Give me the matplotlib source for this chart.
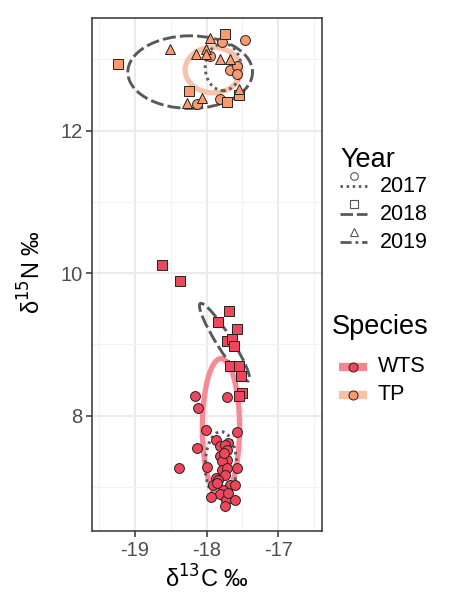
import matplotlib
matplotlib.use("Agg")
import matplotlib.pyplot as plt
from matplotlib.patches import Ellipse
import numpy as np

plt.rcParams['font.family'] = ['Liberation Sans', 'DejaVu Sans']
plt.rcParams['axes.unicode_minus'] = False

# ---------------- data ----------------
species = ["WTS", "TP"]
years = ["2017", "2018", "2019"]

# TP (salmon) points
tp_2017_x = [-17.78, -17.47, -17.95, -17.68, -17.57, -17.57, -18.14, -17.81]
tp_2017_y = [13.24, 13.27, 13.04, 12.85, 12.90, 12.79, 12.37, 12.44]
tp_2018_x = [-17.75, -19.24, -18.24, -17.71, -17.55]
tp_2018_y = [13.36, 12.93, 12.55, 12.40, 12.50]
tp_2019_x = [-17.95, -18.51, -18.15, -18.01, -18.01, -17.82, -17.68, -18.28, -18.07, -17.55]
tp_2019_y = [13.30, 13.15, 13.08, 13.14, 13.07, 13.00, 13.01, 12.39, 12.46, 12.58]

# WTS (red) points
wts_2017_x = [-18.16, -18.12, -17.71, -18.01, -17.57, -18.14, -18.38, -18.00, -17.57,
              -17.87, -17.82, -17.70, -17.74, -17.71, -17.81, -17.72, -17.79, -17.79,
              -17.72, -17.74, -17.87, -17.91, -17.68, -17.61, -17.77, -17.82, -17.94,
              -17.73, -17.60, -17.74, -17.76, -17.84, -17.70, -17.85]
wts_2017_y = [8.28, 8.11, 8.26, 7.80, 7.77, 7.54, 7.26, 7.28, 7.26,
              7.66, 7.58, 7.61, 7.59, 7.51, 7.43, 7.38, 7.36, 7.24,
              7.26, 7.16, 7.12, 7.03, 7.03, 7.03, 6.96, 6.90, 6.86,
              6.82, 6.81, 6.73, 7.48, 7.10, 6.92, 7.05]
wts_2018_x = [-18.63, -18.37, -17.69, -17.84, -17.57, -17.71, -17.64, -17.62,
              -17.67, -17.55, -17.52, -17.50, -17.55]
wts_2018_y = [10.11, 9.89, 9.47, 9.31, 9.22, 9.05, 9.07, 8.98,
              8.69, 8.69, 8.55, 8.32, 8.27]

# Ellipses: centre x, centre y, width, height, angle
sp_ell_species = ["WTS", "TP"]
sp_ell_cx = [-17.80, -17.91]
sp_ell_cy = [7.83, 12.85]
sp_ell_w = [0.52, 0.78]
sp_ell_h = [1.94, 0.64]
sp_ell_ang = [0.0, 0.0]

yr_ell_year = ["2017", "2018", "2017", "2018"]
yr_ell_cx = [-17.77, -18.23, -17.80, -17.75]
yr_ell_cy = [12.89, 12.82, 7.30, 9.03]
yr_ell_w = [0.50, 1.74, 0.44, 1.28]
yr_ell_h = [0.66, 1.02, 0.95, 0.21]
yr_ell_ang = [0.0, 0.0, 0.0, -58.0]

# ---------------- styles ----------------
fill_col = {"WTS": "#F0455B", "TP": "#F99B6E"}
ell_col = {"WTS": "#F7848F", "TP": "#F8C0A6"}
marker_of = {"2017": "o", "2018": "s", "2019": "^"}
msize = {"2017": 7.1, "2018": 6.5, "2019": 7.9}
ls_of = {"2017": (0, (0.9, 1.3)), "2018": (0, (4.5, 1.4)), "2019": (0, (4, 1.4, 1, 1.4))}
gray = "#595959"

W, H = 464, 604
fig = plt.figure(figsize=(W / 100, H / 100), dpi=100)
L, R, T, B = 92, 322, 18, 531
ax = fig.add_axes([L / W, 1 - B / H, (R - L) / W, (B - T) / H])
ax.set_xlim(-19.60, -16.39)
ax.set_ylim(6.38, 13.58)

# grid
ax.set_xticks([-19, -18, -17])
ax.set_yticks([8, 10, 12])
ax.set_xticks([-19.5, -18.5, -17.5, -16.5], minor=True)
ax.set_yticks([7, 9, 11, 13], minor=True)
ax.grid(True, which="major", color="#EBEBEB", lw=1.5, zorder=0)
ax.grid(True, which="minor", color="#F3F3F3", lw=0.8, zorder=0)
ax.set_axisbelow(True)
for s in ax.spines.values():
    s.set_color("#333333")
    s.set_linewidth(1.1)
ax.tick_params(which="major", length=4, width=1.1, color="#333333",
               labelsize=14.5, labelcolor="#4D4D4D", pad=3)
ax.tick_params(which="minor", length=0)
ax.set_xticklabels(["-19", "-18", "-17"])

# species ellipses
for sp, cx, cy, w, h, a in zip(sp_ell_species, sp_ell_cx, sp_ell_cy, sp_ell_w, sp_ell_h, sp_ell_ang):
    ax.add_patch(Ellipse((cx, cy), w, h, angle=a, fill=False, ec=ell_col[sp],
                         lw=3.8, alpha=0.95, zorder=2))

# year ellipses
for yr, cx, cy, w, h, a in zip(yr_ell_year, yr_ell_cx, yr_ell_cy, yr_ell_w, yr_ell_h, yr_ell_ang):
    ax.add_patch(Ellipse((cx, cy), w, h, angle=a, fill=False, ec=gray,
                         lw=2.1, ls=ls_of[yr], zorder=3))

# points
def pts(xs, ys, sp, yr):
    ax.plot(xs, ys, ls="none", marker=marker_of[yr], ms=msize[yr],
            mfc=fill_col[sp], mec="#222222", mew=0.7, zorder=4)

pts(wts_2017_x, wts_2017_y, "WTS", "2017")
pts(wts_2018_x, wts_2018_y, "WTS", "2018")
pts(tp_2017_x, tp_2017_y, "TP", "2017")
pts(tp_2018_x, tp_2018_y, "TP", "2018")
pts(tp_2019_x, tp_2019_y, "TP", "2019")

# axis titles
fig.text(207 / W, 1 - 579 / H, "δ$^{13}$C ‰", ha="center", va="center", fontsize=17)
fig.text(32 / W, 1 - 272 / H, "δ$^{15}$N ‰", ha="center", va="center", fontsize=17,
         rotation=90)

# ---------------- legends (figure pixel space) ----------------
lg = fig.add_axes([0, 0, 1, 1], facecolor="none")
lg.set_xlim(0, W)
lg.set_ylim(H, 0)
lg.axis("off")

lg.text(340, 160, "Year", fontsize=19.5, ha="left", va="center")
for i, yr in enumerate(years):
    yc = 186 + 28 * i
    lg.plot([340, 367], [yc, yc], color=gray, lw=2.0, ls=ls_of[yr])
    lg.plot([354], [yc - 10], marker=marker_of[yr], ms=5.5, mfc="white",
            mec="#555555", mew=0.8, ls="none")
    lg.text(380, yc, yr, fontsize=15.5, ha="left", va="center")

lg.text(332, 327, "Species", fontsize=19.5, ha="left", va="center")
for i, sp in enumerate(species):
    yc = 367 + 28 * i
    lg.plot([339, 367], [yc, yc], color=ell_col[sp], lw=6, solid_capstyle="butt")
    lg.plot([353], [yc], marker="o", ms=6.5, mfc=fill_col[sp], mec="#222222",
            mew=0.7, ls="none")
    lg.text(378, yc, sp, fontsize=15.5, ha="left", va="center")

fig.savefig("out.png", dpi=100, facecolor="white")
